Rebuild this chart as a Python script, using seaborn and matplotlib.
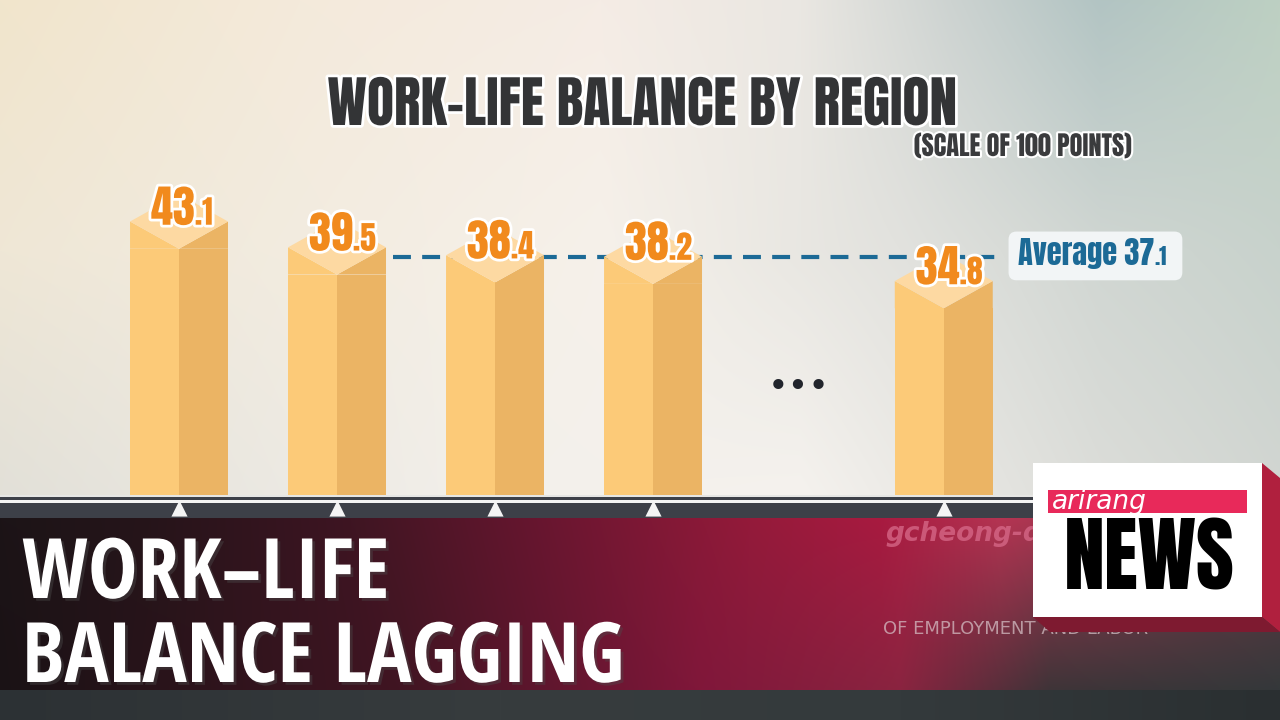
import matplotlib
matplotlib.use("Agg")
import matplotlib.pyplot as plt
import matplotlib.patheffects as pe
from matplotlib.patches import Rectangle, Polygon, FancyBboxPatch
import numpy as np
import pandas as pd
import seaborn as sns

#######################
# DATA
#######################
bar_values = [43.1, 39.5, 38.4, 38.2, 34.8]
average_value = 37.1
title = "WORK-LIFE BALANCE BY REGION"
subtitle = "(SCALE OF 100 POINTS)"
headline = ["WORK\u2013LIFE", "BALANCE LAGGING"]

#######################
# LAYOUT / STYLE
#######################
slot_pos = [0, 1, 2, 3, 4.84]     # gap before last bar holds the "..."
bar_w = 0.62
depth = 3.8                       # isometric top depth in value units
y_lo, y_hi = 4.95, 74.0
x_lo, x_hi = -1.133, 6.968
avg_lift = 1.1                    # the drawn line sits a bit above its value

c_left = '#FCCA78'
c_right = '#EBB464'
c_top = '#FDD9A2'
c_lab = '#F18A1D'
c_avg = '#1C6A96'

heavy = ['Anton', 'Oswald', 'Open Sans Condensed', 'DejaVu Sans']
cond = ['Open Sans Condensed', 'DejaVu Sans']

sns.set_theme(style='white')
plt.rcParams['font.family'] = heavy

W, H = 1280, 720
fig = plt.figure(figsize=(12.8, 7.2), dpi=100)


def hex_rgb(h):
    h = h.lstrip('#')
    return [int(h[i:i + 2], 16) / 255 for i in (0, 2, 4)]


def grad_rows(rows, ys, height):
    # rows: list of (x stops, colours) per y in ys
    xs = np.arange(W)
    arr = []
    for xst, cols in rows:
        cols = np.array([hex_rgb(c) for c in cols])
        arr.append(np.stack([np.interp(xs, xst, cols[:, k]) for k in range(3)], axis=1))
    arr = np.array(arr)
    yy = np.arange(height)
    img = np.zeros((height, W, 3))
    for k in range(3):
        for x in range(W):
            img[:, x, k] = np.interp(yy, ys, arr[:, x, k])
    return img


# background
bg = fig.add_axes([0, 0, 1, 1], zorder=1)
bg_img = grad_rows([
    ([0, 300, 600, 800, 950, 1100, 1280], ['#F1E5CC', '#F4EADB', '#F5ECE5', '#EAE7E2', '#CDD3D1', '#B2C4C3', '#BDD0C2']),
    ([0, 600, 900, 1100, 1280], ['#EFE7D6', '#F6F1EA', '#E2E2DE', '#D0D6D2', '#C8D2CC']),
    ([0, 500, 800, 1100, 1280], ['#E2E0D8', '#F3F0EB', '#F5F2EE', '#DCDDD9', '#D2D6D2']),
], [0, 250, 495], 500)
bg.imshow(bg_img, extent=(0, W, 500, 0), aspect='auto')
bg.set_xlim(0, W)
bg.set_ylim(H, 0)
bg.axis('off')

# main chart axes
ax = fig.add_axes([0, 1 - 495 / H, 1, 495 / H], zorder=2)
ax.patch.set_alpha(0)

df = pd.DataFrame({'pos': slot_pos, 'val': np.array(bar_values) - depth})
sns.barplot(data=df, x='pos', y='val', native_scale=True, width=bar_w,
            color=c_left, saturation=1, ax=ax, zorder=3, linewidth=0)
half = bar_w / 2
ax.bar(np.array(slot_pos) + half / 2, np.array(bar_values) - depth, width=half,
       color=c_right, zorder=3, linewidth=0)
for c, h in zip(slot_pos, bar_values):
    xl, xr = c - half, c + half
    ax.fill([xl, xl, c], [h - depth, h, h - depth], color=c_left, zorder=3, lw=0)
    ax.fill([c, xr, xr], [h - depth, h, h - depth], color=c_right, zorder=3, lw=0)
    ax.fill([xl, c, xr, c], [h, h - depth, h, h + depth], color=c_top, zorder=3, lw=0)
    whole, dec = f"{h:.1f}".split('.')
    fx = [pe.withStroke(linewidth=4, foreground='white')]
    ax.text(c + 0.1, h - 0.45, whole, ha='right', va='baseline', fontsize=32,
            color=c_lab, path_effects=fx, zorder=5)
    ax.text(c + 0.1, h - 0.45, '.' + dec, ha='left', va='baseline', fontsize=23,
            color=c_lab, path_effects=fx, zorder=5)

# average line + box
line_x0 = slot_pos[1] + half + 0.045
line_x1 = 5.23
y_avg = average_value + avg_lift
ax.hlines(y_avg, line_x0, line_x1, colors=c_avg, linewidth=3,
          linestyles=(0, (4.3, 2.7)), zorder=2)
box = FancyBboxPatch((line_x1 + 0.02, y_avg - 3.3), 1.1, 6.8,
                     boxstyle='round,pad=0,rounding_size=0.05', mutation_aspect=22,
                     fc='#F2F5F6', ec='none', zorder=4)
ax.add_patch(box)
avg_whole, avg_dec = f"{average_value:.1f}".split('.')
ax.text(6.17, y_avg - 1.2, 'Average ' + avg_whole, ha='right', va='baseline',
        fontsize=22, color=c_avg, zorder=5)
ax.text(6.17, y_avg - 1.2, '.' + avg_dec, ha='left', va='baseline',
        fontsize=16, color=c_avg, zorder=5)

# ellipsis for the omitted regions
ax.text((slot_pos[3] + slot_pos[4]) / 2, 20, '\u2022\u2022\u2022', ha='center', va='center',
        fontsize=25, color='#22252C', family='DejaVu Sans', zorder=5)

ax.set_xlim(x_lo, x_hi)
ax.set_ylim(y_lo, y_hi)
ax.axis('off')

# title
fig.text(642 / W, 1 - 125 / H, title, ha='center', va='baseline', fontsize=40,
         color='#333436',
         path_effects=[pe.withStroke(linewidth=4, foreground='white')])
fig.text(1131 / W, 1 - 156 / H, subtitle, ha='right', va='baseline', fontsize=19,
         color='#3A3B3D',
         path_effects=[pe.withStroke(linewidth=3, foreground='white')])

# overlay: axis strip, banner, logo
ov = fig.add_axes([0, 0, 1, 1], zorder=3)
ov.patch.set_alpha(0)
ov.set_xlim(0, W)
ov.set_ylim(H, 0)
ov.axis('off')

ov.add_patch(Rectangle((0, 495), W, 2, color='#E6E6E4', lw=0))
ov.add_patch(Rectangle((0, 497), W, 25, color='#3D4048', lw=0))
ov.add_patch(Rectangle((0, 500), W, 2.5, color='#F4F4F4', lw=0))

fig.canvas.draw()
px = ax.transData.transform(np.column_stack([slot_pos, np.full(len(slot_pos), 10.0)]))[:, 0]
ov.scatter(px, np.full(len(px), 507.5), marker='^', s=135, color='#F4F4F4', lw=0, zorder=4)

banner = grad_rows([
    ([0, 150, 350, 550, 750, 880, 1000, 1100, 1280], ['#1C1417', '#26151A', '#3E1522', '#6A1630', '#941A3A', '#A81A40', '#B43452', '#9A3A50', '#6A3A45']),
    ([0, 400, 700, 900, 1050, 1280], ['#1A1215', '#401522', '#80173A', '#8A2440', '#3E3438', '#34383A']),
], [0, 172], 172)
ov.imshow(banner, extent=(0, W, 690, 518), aspect='auto', zorder=2)
low = grad_rows([
    ([0, 500, 900, 1280], ['#2C3134', '#373C3E', '#343A3C', '#2A2F31']),
], [0], 30)
ov.imshow(low, extent=(0, W, 720, 690), aspect='auto', zorder=2)

ov.text(885, 541, 'gcheong-do', ha='left', va='baseline', fontsize=19, style='italic',
        fontweight='bold', color='#D86A8A', alpha=0.75, family='DejaVu Sans', zorder=3)
ov.text(883, 634, 'OF EMPLOYMENT AND LABOR', ha='left', va='baseline', fontsize=13,
        color='#D9C6CB', alpha=0.7, family='DejaVu Sans', zorder=3)

shadow = [pe.withSimplePatchShadow(offset=(2, -2), alpha=0.4)]
ov.text(22, 598, headline[0], ha='left', va='baseline', fontsize=60, color='white',
        family=cond, fontweight='bold', path_effects=shadow, zorder=5)
ov.text(22, 682, headline[1], ha='left', va='baseline', fontsize=60, color='white',
        family=cond, fontweight='bold', path_effects=shadow, zorder=5)

# logo
ov.add_patch(Polygon([(1262, 463), (1280, 478), (1280, 632), (1262, 617)], closed=True,
                     color='#B0203E', lw=0, zorder=4))
ov.add_patch(Polygon([(1033, 617), (1262, 617), (1280, 632), (1050, 632)], closed=True,
                     color='#7E1A30', lw=0, zorder=4))
ov.add_patch(Rectangle((1033, 463), 229, 154, color='white', lw=0, zorder=5))
ov.add_patch(Rectangle((1048, 490), 199, 23, color='#E8295A', lw=0, zorder=6))
ov.text(1052, 509, 'arirang', ha='left', va='baseline', fontsize=19, style='italic',
        color='white', family='DejaVu Sans', zorder=7)
ov.text(1149, 590, 'NEWS', ha='center', va='baseline', fontsize=59,
        color='black', family=heavy, zorder=7)

fig.savefig('out.png', dpi=100)
